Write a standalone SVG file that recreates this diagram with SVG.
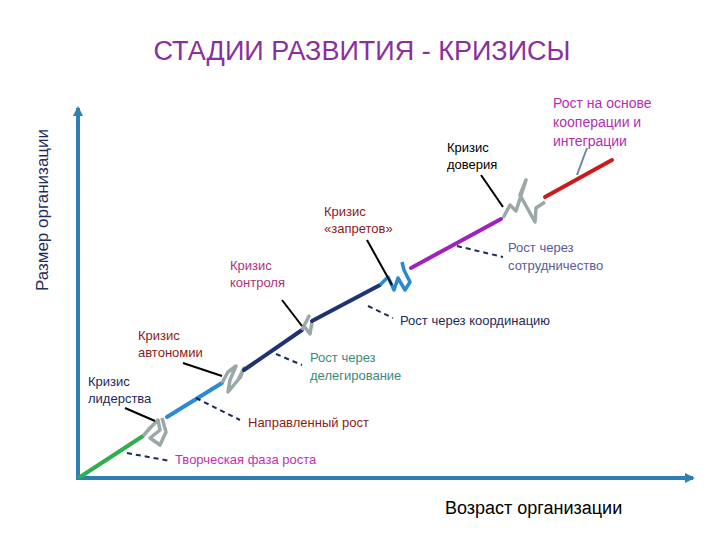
<svg xmlns="http://www.w3.org/2000/svg" width="720" height="540" viewBox="0 0 720 540">
<defs>
<marker id="ah" markerWidth="10" markerHeight="10" refX="8" refY="5" orient="auto" markerUnits="userSpaceOnUse"><path d="M0,0 L10,5 L0,10 z" fill="#2f7fb5"/></marker>
<style>
text{font-family:"Liberation Sans",Arial,sans-serif;font-size:13px}
.ax{stroke:#2f7fb5;stroke-width:4;fill:none}
.seg{stroke-width:4;fill:none;stroke-linecap:round}
.sq{stroke:#9aa8a8;stroke-width:3.5;fill:none;stroke-linejoin:round}
.ld{stroke:#000;stroke-width:2;fill:none}
.ds{stroke:#1a2a5e;stroke-width:2;stroke-dasharray:5,4;fill:none}
</style>
</defs>
<rect width="720" height="540" fill="#fff"/>
<text x="362" y="60" text-anchor="middle" style="font-size:27px" fill="#8b2ea0">СТАДИИ РАЗВИТИЯ - КРИЗИСЫ</text>
<g id="axes">
<line class="ax" x1="78" y1="478" x2="78" y2="108" marker-end="url(#ah)"/>
<line class="ax" x1="76" y1="478" x2="693" y2="478" marker-end="url(#ah)"/>
<text transform="translate(48,210) rotate(-90)" text-anchor="middle" style="font-size:17px" fill="#1f2d5a">Размер организации</text>
<text x="445" y="514" style="font-size:18px" fill="#000">Возраст организации</text>
</g>
<g id="connectors">
<line class="seg" stroke="#2fae4f" x1="80" y1="477" x2="143" y2="436"/>
<path class="sq" d="M143,436 L150,428 L158,420 L160,430 L150,438 L160,445 L166,432 L162,418"/>
<line class="seg" stroke="#2a8ad8" x1="167" y1="417" x2="222" y2="383"/>
<path class="sq" d="M222,383 L228,372 L236,366 L230,380 L228,392 L238,380 L244,368 L240,378 L243,370"/>
<line class="seg" stroke="#1e3470" x1="244" y1="370" x2="302" y2="330"/>
<path class="sq" d="M302,330 L306,322 L309,316 L304,326 L310,334 L312,322"/>
<line class="seg" stroke="#1e3470" x1="312" y1="321" x2="380" y2="285"/>
<path class="sq" style="stroke:#2a8ad0" d="M380,285 L388,277 L394,290 L398,278 L405,290 L410,282 L404,270 L402,262"/>
<line class="seg" stroke="#a020c0" x1="411" y1="268" x2="501" y2="219"/>
<path class="sq" d="M503,218 L510,205 L516,211 L526,180 L520,195 L535,222 L536,208 L545,202"/>
<line class="seg" stroke="#cc1a1a" x1="545" y1="197" x2="612" y2="160"/>
<line class="ld" x1="125" y1="408" x2="155" y2="421"/>
<line class="ld" x1="183" y1="363" x2="222" y2="376"/>
<line class="ld" x1="282" y1="300" x2="302" y2="326"/>
<line class="ld" x1="367" y1="240" x2="392" y2="285"/>
<line class="ld" x1="481" y1="175" x2="503" y2="207"/>
<line class="ld" style="stroke:#6a8aa0" x1="587" y1="148" x2="577" y2="175"/>
<line class="ds" x1="127" y1="453" x2="170" y2="461"/>
<line class="ds" x1="196" y1="398" x2="240" y2="420"/>
<line class="ds" x1="276" y1="354" x2="302" y2="365"/>
<line class="ds" x1="368" y1="306" x2="393" y2="318"/>
<line class="ds" x1="457" y1="246" x2="503" y2="257"/>
</g>
<g id="n-lider"><text x="88" y="386" fill="#1a2a5e">Кризис</text><text x="88" y="403" fill="#1a2a5e">лидерства</text></g>
<g id="n-avto"><text x="138" y="340" fill="#8b1a1a">Кризис</text><text x="138" y="357" fill="#8b1a1a">автономии</text></g>
<g id="n-kontr"><text x="230" y="270" fill="#b0307a">Кризис</text><text x="230" y="287" fill="#b0307a">контроля</text></g>
<g id="n-zapr"><text x="324" y="216" fill="#8b1a1a">Кризис</text><text x="324" y="233" fill="#8b1a1a">«запретов»</text></g>
<g id="n-dov"><text x="447" y="152" fill="#000">Кризис</text><text x="447" y="169" fill="#000">доверия</text></g>
<g id="n-koop"><text x="553" y="108" style="font-size:14px" fill="#b030b0">Рост на основе</text><text x="553" y="127" style="font-size:14px" fill="#b030b0">кооперации и</text><text x="553" y="146" style="font-size:14px" fill="#b030b0">интеграции</text></g>
<g id="n-sotr"><text x="508" y="252" fill="#5a5a9a">Рост через</text><text x="508" y="270" fill="#5a5a9a">сотрудничество</text></g>
<g id="n-koord"><text x="400" y="325" fill="#1a2a5e">Рост через координацию</text></g>
<g id="n-deleg"><text x="310" y="362" fill="#3a8a7a">Рост через</text><text x="310" y="380" fill="#3a8a7a">делегирование</text></g>
<g id="n-napr"><text x="248" y="427" fill="#8b1a1a">Направленный рост</text></g>
<g id="n-tvor"><text x="175" y="464" fill="#c030b0">Творческая фаза роста</text></g>
</svg>
